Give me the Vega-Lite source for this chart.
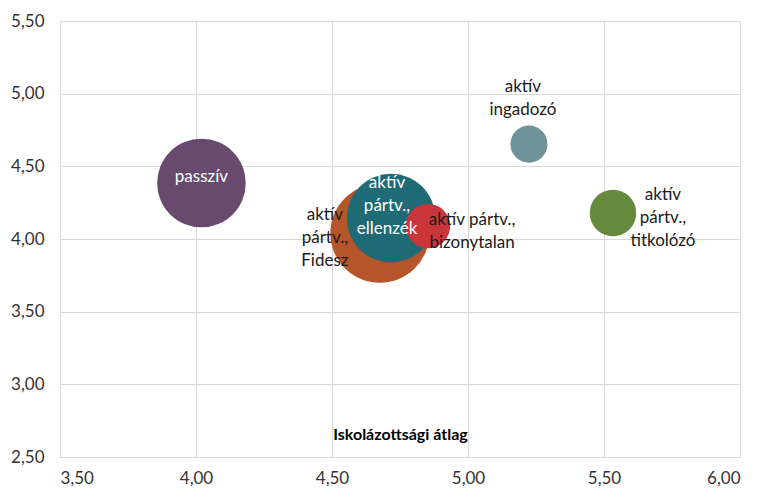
{
  "$schema": "https://vega.github.io/schema/vega-lite/v6.json",
  "width": 680,
  "height": 436,
  "autosize": {"type": "none"},
  "padding": {"left": 60, "top": 21, "right": 17, "bottom": 32},
  "background": "white",
  "config": {
    "view": {"stroke": null},
    "font": "Lato",
    "axis": {
      "gridColor": "#D9D9D9",
      "gridWidth": 1,
      "domainColor": "#D9D9D9",
      "ticks": false,
      "labelFont": "Lato",
      "labelFontSize": 17,
      "labelColor": "#333333"
    }
  },
  "data": {
    "values": [
      {"csoport": "passzív", "cimke": "passzív", "x": 4.02, "y": 4.385, "meret": 40},
      {"csoport": "aktív pártv., Fidesz", "cimke": "aktív\npártv.,\nFidesz", "x": 4.676, "y": 4.04, "meret": 50},
      {"csoport": "aktív pártv., ellenzék", "cimke": "aktív\npártv.,\nellenzék", "x": 4.717, "y": 4.144, "meret": 40},
      {"csoport": "aktív pártv., bizonytalan", "cimke": "aktív pártv.,\nbizonytalan", "x": 4.853, "y": 4.089, "meret": 10},
      {"csoport": "aktív ingadozó", "cimke": "aktív\ningadozó", "x": 5.224, "y": 4.653, "meret": 7},
      {"csoport": "aktív pártv., titkolózó", "cimke": "aktív\npártv.,\ntitkolózó", "x": 5.533, "y": 4.179, "meret": 11}
    ]
  },
  "encoding": {
    "x": {
      "field": "x", "type": "quantitative",
      "scale": {"domain": [3.5, 6], "nice": false, "zero": false},
      "axis": {
        "values": [3.5, 4, 4.5, 5, 5.5, 6],
        "labelExpr": "replace(format(datum.value, '.2f'), '.', ',')",
        "labelPadding": 13,
        "title": "Iskolázottsági átlag",
        "titleFont": "Lato",
        "titleFontSize": 16,
        "titleFontWeight": "bold",
        "titleColor": "#000000",
        "titleY": -23,
        "titleBaseline": "middle"
      }
    },
    "y": {
      "field": "y", "type": "quantitative",
      "scale": {"domain": [2.5, 5.5], "nice": false, "zero": false},
      "axis": {
        "values": [2.5, 3, 3.5, 4, 4.5, 5, 5.5],
        "labelExpr": "replace(format(datum.value, '.2f'), '.', ',')",
        "labelPadding": 16,
        "title": null
      }
    }
  },
  "layer": [
    {
      "mark": {"type": "circle", "opacity": 1},
      "encoding": {
        "size": {"field": "meret", "type": "quantitative", "scale": {"type": "linear", "domain": [0, 40], "range": [0, 7854]}, "legend": null},
        "color": {
          "field": "csoport", "type": "nominal", "legend": null,
          "scale": {
            "domain": ["passzív", "aktív pártv., Fidesz", "aktív pártv., ellenzék", "aktív pártv., bizonytalan", "aktív ingadozó", "aktív pártv., titkolózó"],
            "range": ["#684A6E", "#B5562A", "#1E6A75", "#C9353A", "#6E9398", "#65893D"]
          }
        }
      }
    },
    {
      "transform": [{"filter": "datum.csoport == 'passzív'"}],
      "mark": {"type": "text", "lineBreak": "\n", "align": "center", "baseline": "middle", "fontSize": 17, "color": "white", "dy": -6},
      "encoding": {"text": {"field": "cimke"}}
    },
    {
      "transform": [{"filter": "datum.csoport == 'aktív pártv., Fidesz'"}],
      "mark": {"type": "text", "lineBreak": "\n", "align": "center", "baseline": "middle", "fontSize": 17, "color": "#1a1a1a", "dx": -55, "dy": -18, "lineHeight": 23},
      "encoding": {"text": {"field": "cimke"}}
    },
    {
      "transform": [{"filter": "datum.csoport == 'aktív pártv., ellenzék'"}],
      "mark": {"type": "text", "lineBreak": "\n", "align": "center", "baseline": "middle", "fontSize": 17, "color": "white", "dx": -4, "dy": -35, "lineHeight": 23},
      "encoding": {"text": {"field": "cimke"}}
    },
    {
      "transform": [{"filter": "datum.csoport == 'aktív pártv., bizonytalan'"}],
      "mark": {"type": "text", "lineBreak": "\n", "align": "center", "baseline": "middle", "fontSize": 17, "color": "#1a1a1a", "dx": 44, "dy": -6, "lineHeight": 23},
      "encoding": {"text": {"field": "cimke"}}
    },
    {
      "transform": [{"filter": "datum.csoport == 'aktív ingadozó'"}],
      "mark": {"type": "text", "lineBreak": "\n", "align": "center", "baseline": "middle", "fontSize": 17, "color": "#1a1a1a", "dx": -6, "dy": -57, "lineHeight": 23},
      "encoding": {"text": {"field": "cimke"}}
    },
    {
      "transform": [{"filter": "datum.csoport == 'aktív pártv., titkolózó'"}],
      "mark": {"type": "text", "lineBreak": "\n", "align": "center", "baseline": "middle", "fontSize": 17, "color": "#1a1a1a", "dx": 50, "dy": -18, "lineHeight": 23},
      "encoding": {"text": {"field": "cimke"}}
    }
  ]
}
